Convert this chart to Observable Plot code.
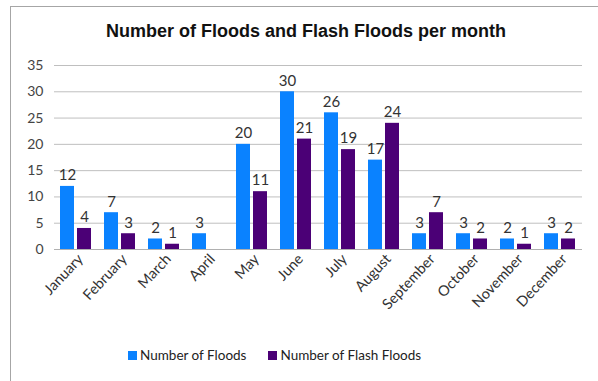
<!DOCTYPE html>
<html>
<head>
<meta charset="utf-8">
<script src="https://cdn.jsdelivr.net/npm/d3@7"></script>
<script src="https://cdn.jsdelivr.net/npm/@observablehq/plot@0.6"></script>
<style>
  html, body { margin: 0; padding: 0; background: #fff; }
  #wrap { position: relative; width: 598px; height: 381px; overflow: hidden; background: #fff; }
  #frame { position: absolute; left: 10px; top: 6px; width: 600px; height: 400px; border-top: 1px solid #a6a6a6; border-left: 1px solid #a6a6a6; pointer-events: none; }
  #title { height: 52px; line-height: 52px; padding-top: 5px; box-sizing: border-box; text-align: center; padding-left: 14px; font-family: "Liberation Sans", Arial, sans-serif; font-weight: bold; font-size: 18px; color: #111; }
  #legend { height: 26px; display: flex; align-items: center; padding-left: 128px; font-family: Lato, "Open Sans", sans-serif; font-size: 13.5px; color: #222; }
  .sw { display: inline-block; width: 9px; height: 9px; margin-right: 3px; }
  .item { display: flex; align-items: center; margin-right: 22px; }
  svg { display: block; }
</style>
</head>
<body>
<div id="wrap">
  <div id="frame"></div>
  <div id="title">Number of Floods and Flash Floods per month</div>
  <div id="chart"></div>
  <div id="legend"></div>
</div>
<script>
const months = ["January","February","March","April","May","June","July","August","September","October","November","December"];
const floods = [12,7,2,3,20,30,26,17,3,3,2,3];
const flashFloods = [4,3,1,0,11,21,19,24,7,2,1,2];
const seriesNames = ["Number of Floods","Number of Flash Floods"];
const seriesColors = ["#0a82ff","#4b0076"];
const yTicks = [0,5,10,15,20,25,30,35];

const data = [];
months.forEach((m, i) => {
  data.push({month: m, series: seriesNames[0], value: floods[i]});
  data.push({month: m, series: seriesNames[1], value: flashFloods[i]});
});

const chart = Plot.plot({
  width: 598,
  height: 290,
  marginTop: 13,
  marginBottom: 93,
  marginLeft: 53,
  marginRight: 15,
  style: {fontFamily: "Lato, 'Open Sans', sans-serif", fontSize: "14px", color: "#333"},
  fx: {domain: months, padding: 0, label: null},
  x: {domain: seriesNames, axis: null, paddingInner: 1/6, paddingOuter: 0.3056},
  y: {domain: [0, 35], ticks: yTicks, axis: null},
  color: {domain: seriesNames, range: seriesColors},
  marks: [
    Plot.gridY(yTicks, {stroke: "#bfbfbf", strokeOpacity: 1, strokeWidth: 1}),
    Plot.axisY(yTicks, {tickSize: 0, tickPadding: 11, label: null, fontSize: 14, fill: "#444"}),
    Plot.barY(data, {fx: "month", x: "series", y: "value", fill: "series"}),
    Plot.ruleY([0], {stroke: "#b0b0b0"}),
    Plot.text(data.filter(d => d.value > 0), {fx: "month", x: "series", y: "value", text: d => String(d.value), dy: -11, fontSize: 15, fill: "#333"}),
    Plot.axisFx({anchor: "bottom", tickRotate: -47, tickSize: 0, tickPadding: 7, dx: 4, label: null, fontSize: 14.5, fill: "#333"})
  ]
});
document.getElementById("chart").appendChild(chart);

const legend = document.getElementById("legend");
seriesNames.forEach((s, i) => {
  const item = document.createElement("div");
  item.className = "item";
  const sw = document.createElement("span");
  sw.className = "sw";
  sw.style.background = seriesColors[i];
  item.appendChild(sw);
  item.appendChild(document.createTextNode(s));
  legend.appendChild(item);
});
</script>
</body>
</html>
